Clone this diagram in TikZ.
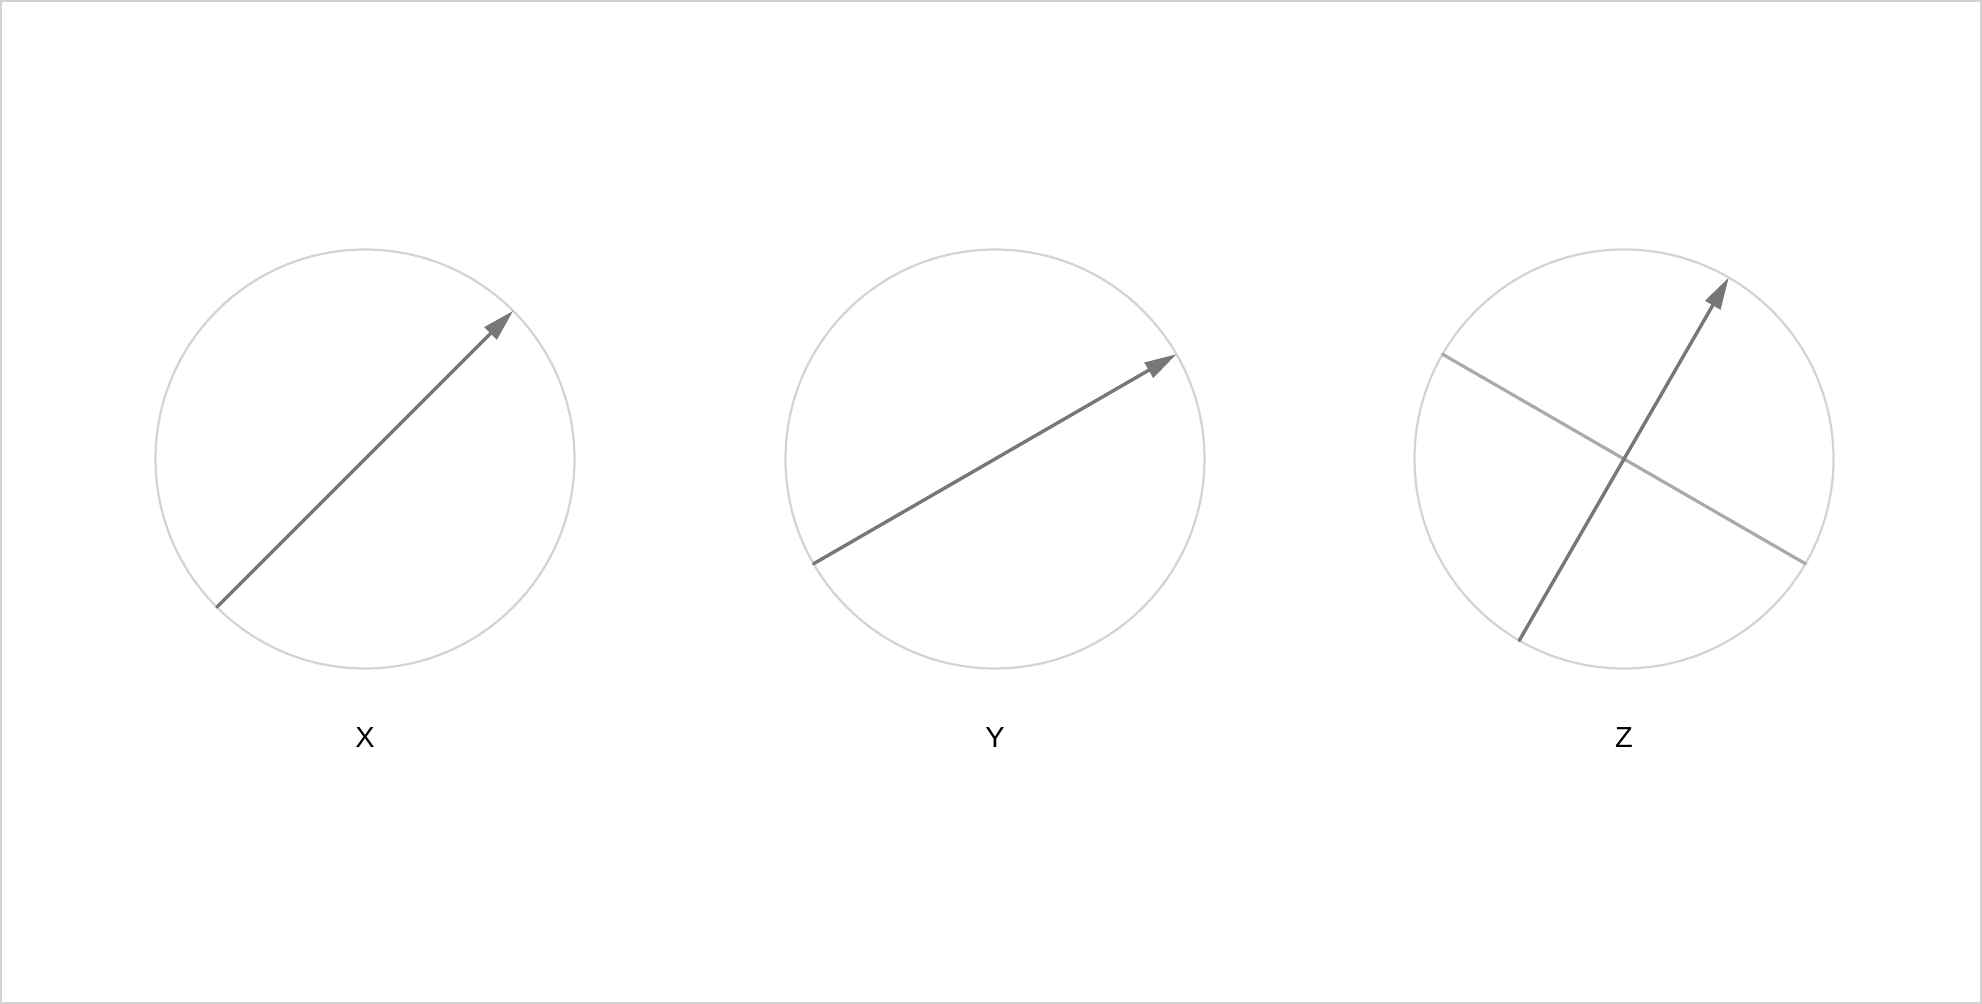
\documentclass[tikz,border=0pt]{standalone}
\usepackage{fontspec}
\setmainfont{Liberation Sans}
\usetikzlibrary{arrows.meta,positioning}
\definecolor{rimgray}{HTML}{D3D3D3}
\definecolor{vecgray}{HTML}{777777}
\definecolor{axgray}{HTML}{AAAAAA}
\tikzset{
  rimcircle/.style={circle, draw=rimgray, line width=1.1pt, minimum size=209.5pt, inner sep=0pt, outer sep=0pt},
  vecline/.style={-{Triangle[length=16pt,width=8.5pt]}, draw=vecgray, line width=1.7pt, line cap=round},
  axline/.style={draw=axgray, line width=1.6pt, line cap=round},
  caplabel/.style={font=\fontsize{14.5}{17}\selectfont, inner sep=0pt}
}

\begin{document}
\begin{tikzpicture}[x=0.5pt, y=-0.5pt]
  \useasboundingbox (0,0) rectangle (1982,1004);
  \draw[rimgray, line width=1pt] (1,1) rectangle (1981,1003);
  \node[rimcircle] (cx) at (365,459) {};
  \node[rimcircle] (cy) at (995,459) {};
  \node[rimcircle] (cz) at (1624,459) {};
  \node[caplabel, below=29.5pt of cx] (lx) {X};
  \node[caplabel, below=29.5pt of cy] (ly) {Y};
  \node[caplabel, below=29.5pt of cz] (lz) {Z};
  \draw[vecline] (cx.225) -- (cx.45);
  \draw[vecline] (cy.210) -- (cy.30);
  \draw[axline] (cz.150) -- (cz.330);
  \draw[vecline] (cz.240) -- (cz.60);
\end{tikzpicture}
\end{document}
